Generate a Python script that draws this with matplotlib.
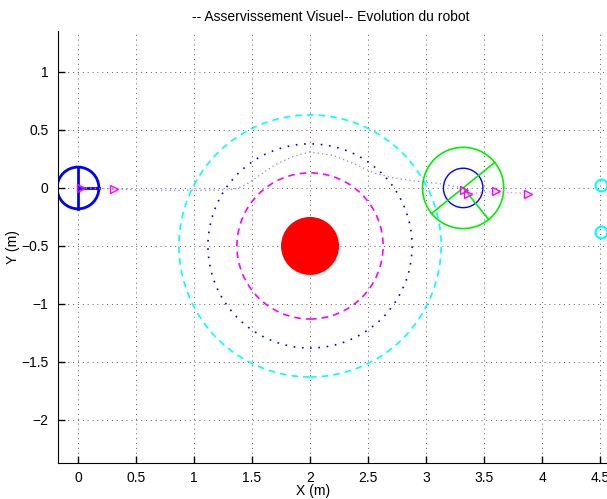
#!/usr/bin/env python
# -*- coding: utf-8 -*-
""" visual servoing: robot path around an obstacle """

import numpy as np
import matplotlib
matplotlib.use('Agg')
import matplotlib.pyplot as plt
from matplotlib.patches import Circle

plt.rcParams['font.family'] = ['Liberation Sans', 'DejaVu Sans']
plt.rcParams['font.size'] = 10

# obstacle and its safety circles
obs_center = (2.0, -0.5)
obs_radius = 0.25
ring_radii = [0.63, 0.88, 1.13]
ring_colors = ['magenta', 'blue', 'cyan']
ring_styles = [(0, (4, 3)), (0, (1, 4)), (0, (4, 3))]

# robots (start / end)
start_pos = (0.0, 0.0)
start_radius = 0.18
start_heading = 0.0
end_pos = (3.32, 0.0)
end_radius = 0.35
end_inner_radius = 0.17
end_heading = -51.0

# trajectory of the robot
traj_x = [0.30, 0.6, 0.9, 1.2, 1.35, 1.45, 1.55, 1.7, 1.85, 2.0, 2.2, 2.4, 2.55, 2.7, 2.9, 3.1, 3.32]
traj_y = [-0.01, -0.02, -0.02, -0.02, -0.01, 0.03, 0.10, 0.20, 0.27, 0.31, 0.28, 0.20, 0.13, 0.09, 0.06, 0.04, 0.0]

# target markers
tri_start_x = [0.03, 0.31]
tri_start_y = [0.0, -0.01]
tri_end_x = [3.33, 3.36, 3.60, 3.88]
tri_end_y = [-0.02, -0.05, -0.03, -0.05]
pts_x = [4.506, 4.506]
pts_y = [0.026, -0.38]

xticks = np.arange(0, 4.51, 0.5)
yticks = np.arange(-2, 1.01, 0.5)

fig = plt.figure(figsize=(6.07, 4.99), dpi=100)
ax = fig.add_axes([58 / 607, 36 / 499, 562 / 607, 432 / 499])

for r, c, ls in zip(ring_radii, ring_colors, ring_styles):
    ax.add_patch(Circle(obs_center, r, fill=False, edgecolor=c, linestyle=ls, lw=1.2))
ax.add_patch(Circle(obs_center, obs_radius, facecolor='red', edgecolor='none'))

# trajectory
ax.plot(traj_x, traj_y, color='#7f7fff', linestyle=(0, (1, 2.5)), lw=0.9)

# start robot
ax.add_patch(Circle(start_pos, start_radius, fill=False, edgecolor='blue', lw=2))
a = np.deg2rad(start_heading + 90)
ax.plot([start_pos[0] - start_radius * np.cos(a), start_pos[0] + start_radius * np.cos(a)],
        [start_pos[1] - start_radius * np.sin(a), start_pos[1] + start_radius * np.sin(a)],
        color='blue', lw=2)
h = np.deg2rad(start_heading)
ax.plot([start_pos[0], start_pos[0] + start_radius * np.cos(h)],
        [start_pos[1], start_pos[1] + start_radius * np.sin(h)], color='blue', lw=2)

# end robot
ax.add_patch(Circle(end_pos, end_radius, fill=False, edgecolor='#00ee00', lw=1.2))
ax.add_patch(Circle(end_pos, end_inner_radius, fill=False, edgecolor='blue', lw=1))
a = np.deg2rad(end_heading + 90)
ax.plot([end_pos[0] - end_radius * np.cos(a), end_pos[0] + end_radius * np.cos(a)],
        [end_pos[1] - end_radius * np.sin(a), end_pos[1] + end_radius * np.sin(a)],
        color='#00ee00', lw=1.2)
h = np.deg2rad(end_heading)
ax.plot([end_pos[0], end_pos[0] + end_radius * np.cos(h)],
        [end_pos[1], end_pos[1] + end_radius * np.sin(h)], color='#00ee00', lw=1.2)

# markers
ax.plot(tri_start_x, tri_start_y, color='#ff66ff', linestyle=(0, (1, 2.5)), lw=0.9,
        marker='>', mfc='none', mec='magenta', mew=1, ms=6)
ax.plot(tri_end_x, tri_end_y, color='#ff66ff', linestyle=(0, (1, 2.5)), lw=0.9,
        marker='>', mfc='none', mec='magenta', mew=1, ms=6)
ax.plot(pts_x, pts_y, linestyle='none', marker='o', mfc='none', mec='cyan', mew=1.5, ms=8.5)

ax.set_xlim(-0.1724, 4.672)
ax.set_ylim(-2.371, 1.353)
ax.set_xticks(xticks)
ax.set_xticklabels(['0', '0.5', '1', '1.5', '2', '2.5', '3', '3.5', '4', '4.5'])
ax.set_yticks(yticks)
ax.set_yticklabels(['\u22122', '\u22121.5', '\u22121', '\u22120.5', '0', '0.5', '1'])
ax.tick_params(direction='in', length=5, width=1)
ax.tick_params(axis='x', pad=6)
ax.tick_params(axis='y', pad=7)
ax.spines['top'].set_visible(False)
ax.spines['right'].set_visible(False)
ax.grid(True, color='0.35', linestyle=(0, (1, 4)), lw=0.7)
ax.set_axisbelow(True)

ax.set_xlabel('X (m)', va='center')
ax.xaxis.set_label_coords((313 - 58) / 562, (463 - 491) / 432)
ax.set_ylabel('Y (m)', va='center')
ax.yaxis.set_label_coords((13 - 58) / 562, 0.5)
fig.text(0.545, 0.965, '-- Asservissement Visuel-- Evolution du robot',
         ha='center', va='center', fontsize=10)

fig.savefig('out.png', dpi=100)
